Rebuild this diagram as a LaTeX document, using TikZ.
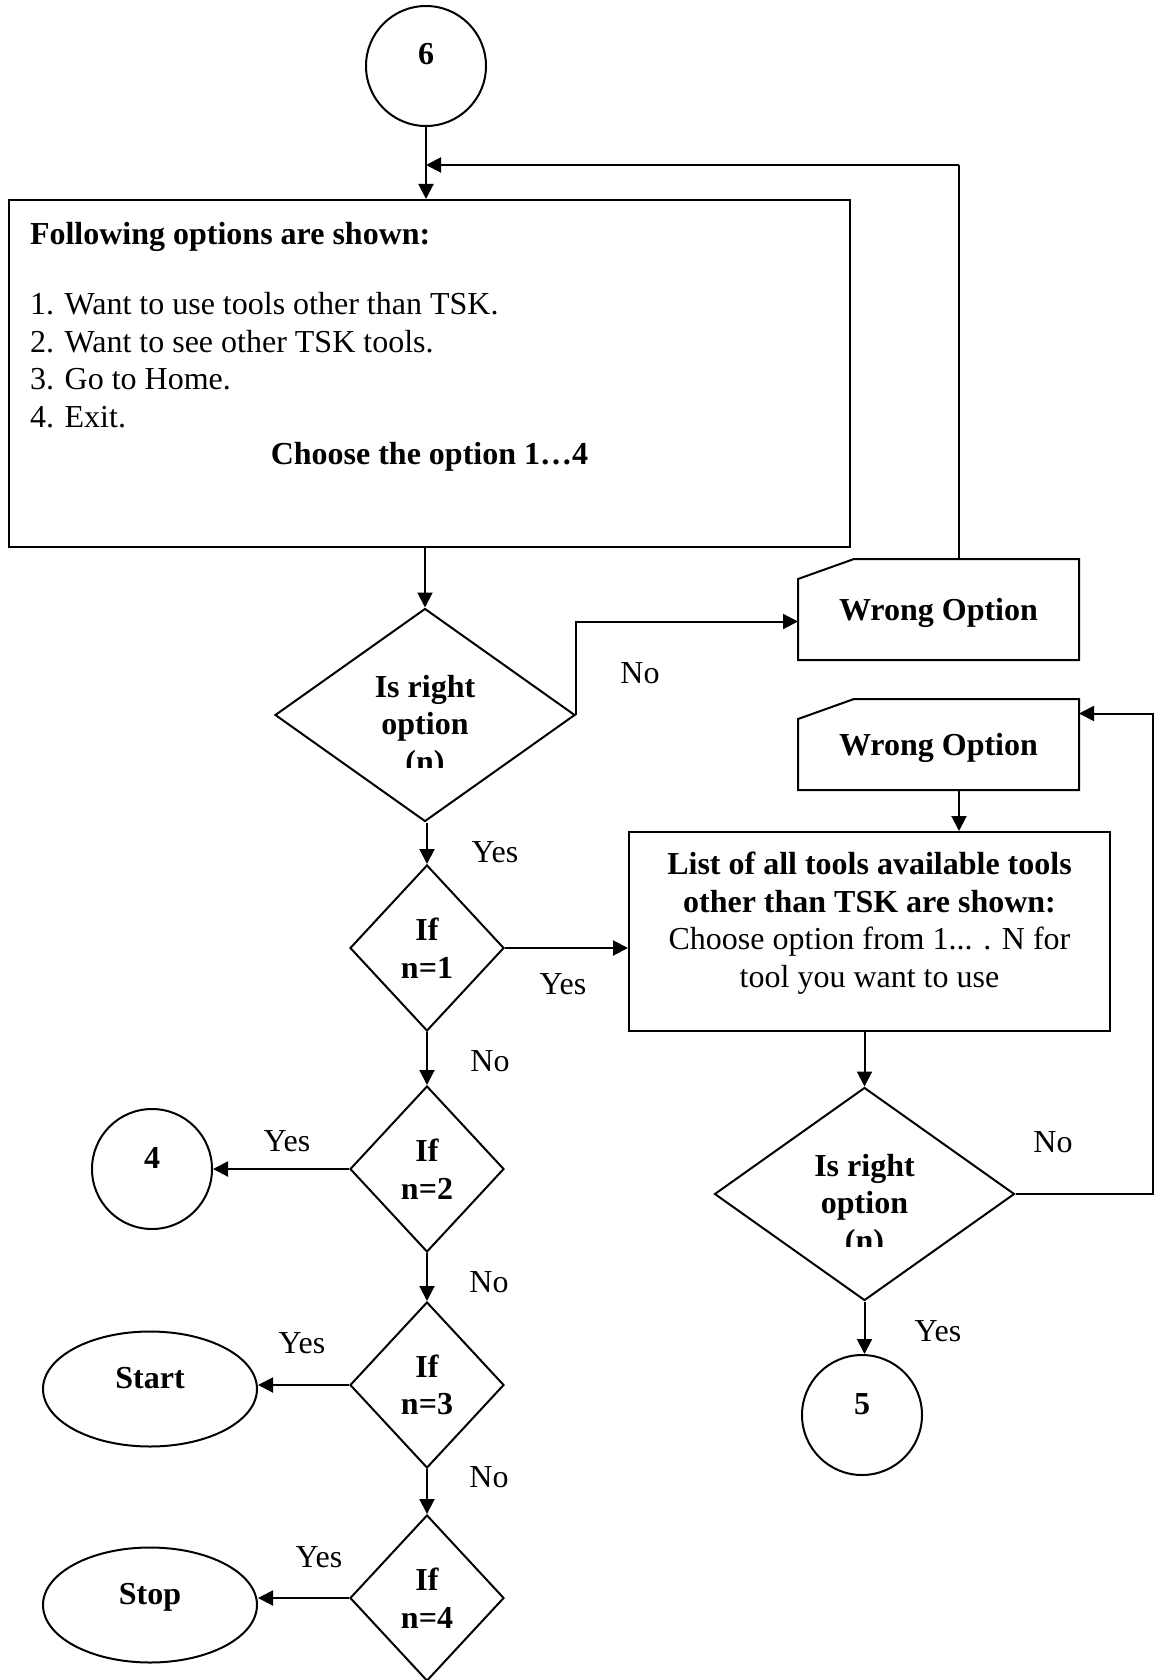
\documentclass[tikz,border=0pt]{standalone}
\usepackage{fontspec}
\setmainfont{Liberation Serif}
\usetikzlibrary{arrows.meta,shapes.geometric}
\newcommand{\fcfont}{\fontsize{32}{37.5}\selectfont}

\begin{document}
\begin{tikzpicture}[x=1pt, y=-1pt, line width=2pt, >={Triangle[length=15pt,width=15pt]},
  conn/.style={circle, draw, minimum size=120pt, inner sep=0pt, font=\fcfont\bfseries, text height=22pt, text depth=24pt},
  term/.style={ellipse, draw, minimum width=214pt, minimum height=115pt, inner sep=0pt, font=\fcfont\bfseries, text height=22pt, text depth=24pt},
  proc/.style={rectangle, draw, inner sep=0pt, font=\fcfont},
  card/.style={rectangle, minimum width=279pt, inner sep=0pt, font=\fcfont\bfseries, text height=22pt, text depth=0pt},
  ifbox/.style={diamond, draw, minimum width=154pt, minimum height=166pt, inner sep=0pt, font=\fcfont\bfseries, align=center},
  askbox/.style={diamond, draw, minimum width=300pt, minimum height=213pt, inner sep=0pt},
  asktext/.style={font=\fcfont\bfseries, align=center, inner sep=0pt},
  lbl/.style={font=\fcfont}]

  \useasboundingbox (0,0) rectangle (1154,1680);

  \node[conn] (c6) at (426,66) {6};
  \node[proc, minimum width=841pt, minimum height=347pt] (opts) at (429.5,373.5)
    {\parbox[c][303pt][t]{799pt}{\raggedright\textbf{Following options are shown:}\\[33pt]
     1. Want to use tools other than TSK.\\
     2. Want to see other TSK tools.\\
     3. Go to Home.\\
     4. Exit.\par
     \centering\textbf{Choose the option 1…4}}};
  \node[askbox] (ask1) at (425,715) {};
  \node[card, minimum height=99pt] (wrong1) at (938.5,609.5) {Wrong Option};
  \node[card, minimum height=89pt] (wrong2) at (938.5,744.5) {Wrong Option};
  \node[proc, minimum width=481pt, minimum height=199pt] (tools) at (869.5,931.5)
    {\parbox[c][159pt][t]{470pt}{\centering\textbf{List of all tools available tools\\
     other than TSK are shown:}\\
     Choose option from 1... . N for\\
     tool you want to use}};
  \node[askbox] (ask2) at (864.5,1194) {};
  \node[conn] (c5) at (862,1415) {5};

  \node[ifbox] (if1) at (427,948) {If\\n=1};
  \node[ifbox] (if2) at (427,1169) {If\\n=2};
  \node[ifbox] (if3) at (427,1385) {If\\n=3};
  \node[ifbox] (if4) at (427,1598) {If\\n=4};
  \node[conn] (c4) at (152,1169) {4};
  \node[term] (start) at (150,1389) {Start};
  \node[term] (stop) at (150,1605) {Stop};

  \foreach \w in {wrong1,wrong2}
    \draw (\w.south west) -- ([yshift=-20pt]\w.north west) -- ([xshift=56pt]\w.north west)
      -- (\w.north east) -- (\w.south east) -- cycle;

  \foreach \d in {ask1,ask2}{
    \begin{scope}
      \clip ([shift={(-150pt,-52pt)}]\d.center) rectangle ([shift={(150pt,100pt)}]\d.center);
      \node[asktext] at ([yshift=-12pt]\d.center) {Is right\\option\\(n)};
    \end{scope}
  }

  \coordinate (back) at (959,165);
  \draw[->] (c6.south) -- (c6.south |- opts.north);
  \draw (wrong1.north -| back) -- (back);
  \draw[->] (back) -- (back -| c6.south);
  \draw[->] (ask1.north |- opts.south) -- (ask1.north);
  \draw[->] (ask1.east) |- ([yshift=-12pt]wrong1.west);
  \draw[->] (if1.north |- ask1.south) -- (if1.north);
  \draw[->] (if1.east) -- (if1.east -| tools.west);
  \draw[->] (if1) -- (if2);
  \draw[->] (if2) -- (c4);
  \draw[->] (if2) -- (if3);
  \draw[->] (if3.west) -- (if3.west -| start.east);
  \draw[->] (if3) -- (if4);
  \draw[->] (if4.west) -- (if4.west -| stop.east);
  \draw[->] ([xshift=20.5pt]wrong2.south) -- ([xshift=20.5pt]wrong2.south |- tools.north);
  \draw[->] (ask2.north |- tools.south) -- (ask2.north);
  \draw[->] (ask2.east) -- ++(137,0) |- ([yshift=31pt]wrong2.east);
  \draw[->] (ask2.south) -- (ask2.south |- c5.north);

  \node[lbl] at (640,673) {No};
  \node[lbl] at (495,852) {Yes};
  \node[lbl] at (563,984) {Yes};
  \node[lbl] at (490,1061) {No};
  \node[lbl] at (287,1141) {Yes};
  \node[lbl] at (489,1282) {No};
  \node[lbl] at (302,1343) {Yes};
  \node[lbl] at (489,1477) {No};
  \node[lbl] at (319,1557) {Yes};
  \node[lbl] at (1053,1142) {No};
  \node[lbl] at (938,1331) {Yes};

\end{tikzpicture}
\end{document}
